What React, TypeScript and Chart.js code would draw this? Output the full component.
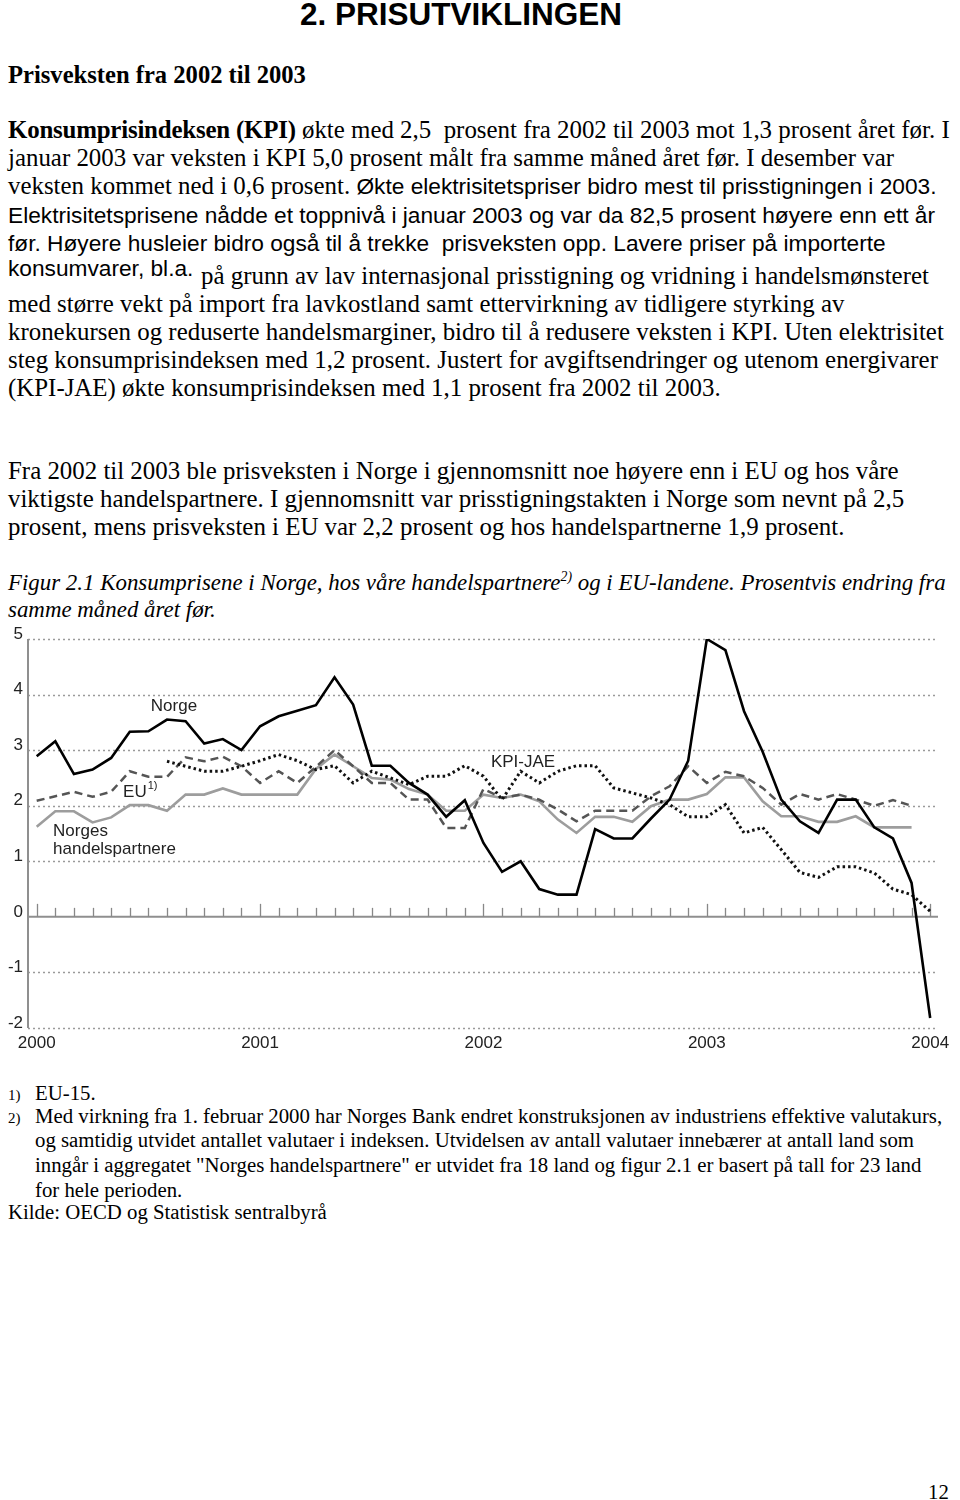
import React, { useEffect, useRef } from 'react';
import { Chart, registerables } from 'chart.js';

Chart.register(...registerables);

// ---------- data (monthly, Jan 2000 .. Jan 2004) ----------
const yearLabels = ['2000', '2001', '2002', '2003', '2004'];

const norge = [
  2.89, 3.16, 2.57, 2.65, 2.86, 3.33, 3.34, 3.55, 3.52, 3.12, 3.2, 3.0,
  3.43, 3.61, 3.71, 3.81, 4.31, 3.82, 2.72, 2.72, 2.41, 2.2, 1.8, 2.1,
  1.33, 0.81, 1.0, 0.5, 0.4, 0.4, 1.58, 1.41, 1.41, 1.77, 2.11, 2.81,
  5.0, 4.8, 3.7, 2.97, 2.11, 1.72, 1.51, 2.11, 2.11, 1.61, 1.41, 0.61,
  -1.82,
];

const kpiJae = [
  null, null, null, null, null, null, null, 2.8, 2.71, 2.62, 2.62, 2.71,
  2.81, 2.92, 2.81, 2.65, 2.72, 2.41, 2.62, 2.5, 2.38, 2.53, 2.53, 2.72,
  2.53, 2.11, 2.62, 2.41, 2.62, 2.72, 2.72, 2.32, 2.23, 2.14, 2.02, 1.8,
  1.8, 2.02, 1.51, 1.61, 1.21, 0.8, 0.71, 0.9, 0.9, 0.79, 0.5, 0.4,
  0.1,
];

const eu = [
  2.09, 2.17, 2.25, 2.16, 2.25, 2.62, 2.52, 2.52, 2.87, 2.8, 2.88, 2.71,
  2.41, 2.62, 2.41, 2.7, 3.0, 2.71, 2.41, 2.41, 2.11, 2.11, 1.6, 1.6,
  2.3, 2.14, 2.2, 2.11, 1.93, 1.72, 1.91, 1.91, 1.91, 2.17, 2.35, 2.71,
  2.41, 2.61, 2.53, 2.32, 2.02, 2.21, 2.11, 2.21, 2.11, 2.0, 2.1, 2.0,
];

const handelspartnere = [
  1.62, 1.9, 1.9, 1.7, 1.79, 2.01, 2.01, 1.91, 2.2, 2.2, 2.31, 2.2,
  2.2, 2.2, 2.2, 2.66, 2.92, 2.71, 2.5, 2.47, 2.3, 2.2, 1.91, 1.91,
  2.2, 2.14, 2.2, 2.08, 1.75, 1.51, 1.8, 1.8, 1.71, 1.99, 2.11, 2.11,
  2.21, 2.51, 2.51, 2.08, 1.81, 1.81, 1.71, 1.71, 1.81, 1.61, 1.61, 1.61,
];

const yTicks = [-2, -1, 0, 1, 2, 3, 4, 5];

// in-chart series labels: text, month position, value position
const seriesLabels = [
  { text: 'Norge', m: 6.13, v: 3.7 },
  { text: 'KPI-JAE', m: 24.4, v: 2.69 },
  { text: 'EU', m: 4.64, v: 2.16, sup: '1)' },
  { text: 'Norges', m: 0.88, v: 1.45 },
  { text: 'handelspartnere', m: 0.88, v: 1.14 },
];

const CHART_FONT = 'Liberation Sans, Arial, sans-serif';
const SERIF = '"Liberation Serif", "Times New Roman", serif';
const SANS = '"Liberation Sans", Arial, sans-serif';

const toXY = (arr: (number | null)[]) => arr.map((v, i) => ({ x: i, y: v }));

const framePlugin = {
  id: 'frame',
  beforeDatasetsDraw(chart: any) {
    const { ctx, chartArea: a, scales } = chart;
    const x = scales.x;
    const y = scales.y;
    ctx.save();
    // dotted grid lines
    ctx.strokeStyle = '#9a9a9a';
    ctx.lineWidth = 1.5;
    ctx.setLineDash([2, 3]);
    yTicks.forEach((v) => {
      if (v === 0) return;
      const py = Math.round(y.getPixelForValue(v)) + 0.5;
      ctx.beginPath();
      ctx.moveTo(a.left, py);
      ctx.lineTo(a.right, py);
      ctx.stroke();
    });
    ctx.setLineDash([]);
    // left axis
    ctx.strokeStyle = '#8f8f8f';
    ctx.lineWidth = 2;
    ctx.beginPath();
    ctx.moveTo(a.left, a.top);
    ctx.lineTo(a.left, a.bottom);
    ctx.stroke();
    // zero line
    const y0 = y.getPixelForValue(0);
    ctx.beginPath();
    ctx.moveTo(a.left, y0);
    ctx.lineTo(a.right, y0);
    ctx.stroke();
    // month ticks
    ctx.lineWidth = 1.3;
    ctx.strokeStyle = '#888';
    for (let m = 0; m < norge.length; m++) {
      const px = Math.round(x.getPixelForValue(m)) + 0.5;
      const len = m % 12 === 0 ? 13 : 9;
      ctx.beginPath();
      ctx.moveTo(px, y0);
      ctx.lineTo(px, y0 - len);
      ctx.stroke();
    }
    ctx.restore();
  },
  afterDatasetsDraw(chart: any) {
    const { ctx, scales } = chart;
    const x = scales.x;
    const y = scales.y;
    ctx.save();
    ctx.fillStyle = '#222';
    ctx.textBaseline = 'alphabetic';
    ctx.textAlign = 'left';
    seriesLabels.forEach((l) => {
      const px = x.getPixelForValue(l.m);
      const py = y.getPixelForValue(l.v);
      ctx.font = `17px ${CHART_FONT}`;
      ctx.fillText(l.text, px, py);
      if (l.sup) {
        const w = ctx.measureText(l.text).width;
        ctx.font = `11px ${CHART_FONT}`;
        ctx.fillText(l.sup, px + w + 1, py - 8);
      }
    });
    ctx.restore();
  },
};

function PriceChart() {
  const ref = useRef<HTMLCanvasElement | null>(null);
  useEffect(() => {
    if (!ref.current) return;
    const chart = new Chart(ref.current, {
      type: 'line',
      data: {
        datasets: [
          {
            label: 'Norge',
            data: toXY(norge),
            borderColor: '#000',
            borderWidth: 2.6,
            pointRadius: 0,
            tension: 0,
          },
          {
            label: 'KPI-JAE',
            data: toXY(kpiJae),
            borderColor: '#111',
            borderWidth: 3,
            borderDash: [2.5, 3],
            pointRadius: 0,
            tension: 0,
          },
          {
            label: 'EU',
            data: toXY(eu),
            borderColor: '#555',
            borderWidth: 2.5,
            borderDash: [8, 5],
            pointRadius: 0,
            tension: 0,
          },
          {
            label: 'Norges handelspartnere',
            data: toXY(handelspartnere),
            borderColor: '#9d9d9d',
            borderWidth: 2.6,
            pointRadius: 0,
            tension: 0,
          },
        ],
      },
      options: {
        responsive: false,
        animation: false,
        devicePixelRatio: 1,
        layout: { padding: { top: 19, right: 22, left: 0, bottom: 0 } },
        plugins: { legend: { display: false }, tooltip: { enabled: false } },
        scales: {
          x: {
            type: 'linear',
            min: -0.467,
            max: 48.42,
            grid: { display: false, drawTicks: false },
            border: { display: false },
            afterFit: (s: any) => {
              s.height = 32;
            },
            afterBuildTicks: (s: any) => {
              s.ticks = yearLabels.map((_, i) => ({ value: i * 12 }));
            },
            ticks: {
              autoSkip: false,
              maxRotation: 0,
              padding: 5,
              color: '#222',
              font: { family: CHART_FONT, size: 17 },
              callback: (v: any) => yearLabels[Math.round(Number(v) / 12)],
            },
          },
          y: {
            min: -2,
            max: 5,
            grid: { display: false, drawTicks: false },
            border: { display: false },
            afterFit: (s: any) => {
              s.width = 28;
            },
            afterBuildTicks: (s: any) => {
              s.ticks = yTicks.map((v) => ({ value: v }));
            },
            ticks: {
              padding: 5,
              labelOffset: -5,
              color: '#222',
              font: { family: CHART_FONT, size: 17 },
              callback: (v: any) => String(v),
            },
          },
        },
      },
      plugins: [framePlugin],
    });
    return () => chart.destroy();
  }, []);
  return <canvas ref={ref} width={960} height={440} style={{ display: 'block' }} />;
}

type LineProps = {
  y: number;
  x?: number;
  size: number;
  family?: string;
  children: React.ReactNode;
  style?: React.CSSProperties;
};

function L({ y, x = 8, size, family = SERIF, children, style }: LineProps) {
  return (
    <div
      style={{
        position: 'absolute',
        left: x,
        top: y - size / 2,
        fontSize: size,
        lineHeight: `${size}px`,
        fontFamily: family,
        whiteSpace: 'pre',
        color: '#000',
        ...style,
      }}
    >
      {children}
    </div>
  );
}

const SANS_SIZE = 22.7;
const S = (p: { children: React.ReactNode }) => (
  <span style={{ fontFamily: SANS, fontSize: SANS_SIZE }}>{p.children}</span>
);

export default function App() {
  const B = 24.9;
  const F = 20.8;
  const I = 22.9;
  return (
    <div>
      <L y={15} x={300} size={31.5} family={SANS} style={{ fontWeight: 'bold' }}>
        2. PRISUTVIKLINGEN
      </L>
      <L y={75} size={24.6} style={{ fontWeight: 'bold' }}>
        Prisveksten fra 2002 til 2003
      </L>

      <L y={130} size={B}>
        <b style={{ letterSpacing: -0.2 }}>Konsumprisindeksen (KPI)</b> økte med 2,5  prosent fra 2002 til 2003 mot 1,3 prosent året før. I
      </L>
      <L y={158} size={B}>januar 2003 var veksten i KPI 5,0 prosent målt fra samme måned året før. I desember var</L>
      <L y={186} size={B}>
        veksten kommet ned i 0,6 prosent. <S>Økte elektrisitetspriser bidro mest til prisstigningen i 2003.</S>
      </L>
      <L y={215} size={SANS_SIZE} family={SANS}>
        Elektrisitetsprisene nådde et toppnivå i januar 2003 og var da 82,5 prosent høyere enn ett år
      </L>
      <L y={243} size={SANS_SIZE} family={SANS}>
        før. Høyere husleier bidro også til å trekke  prisveksten opp. Lavere priser på importerte
      </L>
      <L y={268} size={SANS_SIZE} family={SANS}>
        konsumvarer, bl.a.
      </L>
      <L y={276} x={201} size={B}>
        på grunn av lav internasjonal prisstigning og vridning i handelsmønsteret
      </L>
      <L y={304} size={B}>med større vekt på import fra lavkostland samt ettervirkning av tidligere styrking av</L>
      <L y={332} size={B}>kronekursen og reduserte handelsmarginer, bidro til å redusere veksten i KPI. Uten elektrisitet</L>
      <L y={360} size={B}>steg konsumprisindeksen med 1,2 prosent. Justert for avgiftsendringer og utenom energivarer</L>
      <L y={388} size={B}>(KPI-JAE) økte konsumprisindeksen med 1,1 prosent fra 2002 til 2003.</L>

      <L y={471} size={B}>Fra 2002 til 2003 ble prisveksten i Norge i gjennomsnitt noe høyere enn i EU og hos våre</L>
      <L y={499} size={B}>viktigste handelspartnere. I gjennomsnitt var prisstigningstakten i Norge som nevnt på 2,5</L>
      <L y={527} size={B}>prosent, mens prisveksten i EU var 2,2 prosent og hos handelspartnerne 1,9 prosent.</L>

      <L y={583} size={I} style={{ fontStyle: 'italic' }}>
        Figur 2.1 Konsumprisene i Norge, hos våre handelspartnere
        <sup style={{ fontSize: '0.6em', lineHeight: 0 }}>2)</sup> og i EU-landene. Prosentvis endring fra
      </L>
      <L y={610} size={I} style={{ fontStyle: 'italic' }}>
        samme måned året før.
      </L>

      <div style={{ position: 'absolute', left: 0, top: 620 }}>
        <PriceChart />
      </div>

      <L y={1093} size={F}>
        <span style={{ fontSize: 15 }}>1)</span>
      </L>
      <L y={1093} x={35} size={F}>EU-15.</L>
      <L y={1116} size={F}>
        <span style={{ fontSize: 15 }}>2)</span>
      </L>
      <L y={1116} x={35} size={F}>
        Med virkning fra 1. februar 2000 har Norges Bank endret konstruksjonen av industriens effektive valutakurs,
      </L>
      <L y={1140} x={35} size={F}>
        og samtidig utvidet antallet valutaer i indeksen. Utvidelsen av antall valutaer innebærer at antall land som
      </L>
      <L y={1165} x={35} size={F}>
        inngår i aggregatet "Norges handelspartnere" er utvidet fra 18 land og figur 2.1 er basert på tall for 23 land
      </L>
      <L y={1190} x={35} size={F}>for hele perioden.</L>
      <L y={1212} size={F}>Kilde: OECD og Statistisk sentralbyrå</L>

      <L y={1492} x={928} size={F}>12</L>
    </div>
  );
}
